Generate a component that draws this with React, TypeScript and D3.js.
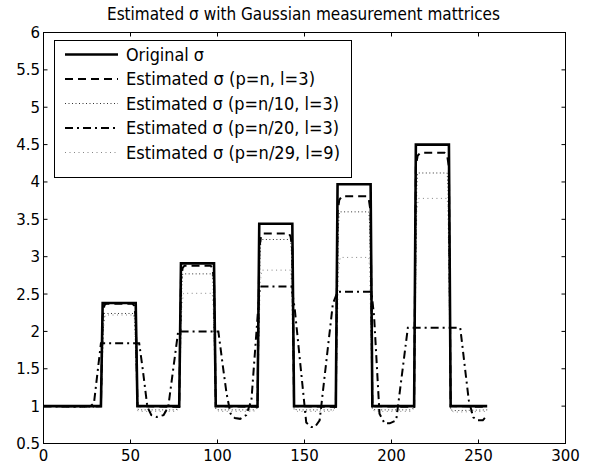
import React from "react";
import * as d3 from "d3";

const titleText = "Estimated σ with Gaussian measurement mattrices";
const xTicks = [0, 50, 100, 150, 200, 250, 300];
const yTicks = [0.5, 1, 1.5, 2, 2.5, 3, 3.5, 4, 4.5, 5, 5.5, 6];
const yTickLabels = ["0.5", "1", "1.5", "2", "2.5", "3", "3.5", "4", "4.5", "5", "5.5", "6"];

const originalSigma: [number, number][] = [
  [0, 1], [33, 1], [34, 2.38], [53, 2.38], [54, 1],
  [78, 1], [79, 2.91], [98, 2.91], [99, 1],
  [123, 1], [124, 3.44], [143, 3.44], [144, 1],
  [168, 1], [169, 3.97], [188, 3.97], [189, 1],
  [213, 1], [214, 4.5], [233, 4.5], [234, 1], [255, 1],
];

const estFull: [number, number][] = [
  [0, 1], [33, 1], [34, 2.2], [35, 2.35], [36, 2.37], [51, 2.37], [52, 2.35], [53, 2.2], [54, 1],
  [78, 0.99], [79, 2.7], [80, 2.85], [81, 2.88], [96, 2.88], [97, 2.85], [98, 2.7], [99, 1],
  [123, 0.99], [124, 3.1], [125, 3.27], [126, 3.31], [141, 3.31], [142, 3.27], [143, 3.1], [144, 1],
  [168, 0.99], [169, 3.6], [170, 3.76], [171.5, 3.81], [185.5, 3.81], [187, 3.76], [188, 3.6], [189, 1],
  [213, 0.99], [214, 4.2], [215, 4.35], [216.5, 4.39], [230.5, 4.39], [232, 4.35], [233, 4.2], [234, 1], [255, 0.99],
];

const estTenth: [number, number][] = [
  [0, 1], [33, 0.99], [34.5, 2.1], [35, 2.24], [52, 2.24], [52.5, 2.1], [54, 0.96],
  [56, 0.95], [76, 0.95], [78, 0.98], [79.5, 2.6], [80, 2.77], [97, 2.77], [97.5, 2.6], [99, 0.96],
  [101, 0.95], [121, 0.95], [123, 0.98], [124.5, 3.05], [125, 3.23], [142, 3.23], [142.5, 3.05], [144, 0.96],
  [146, 0.95], [166, 0.95], [168, 0.98], [169.5, 3.4], [170, 3.6], [187, 3.6], [187.5, 3.4], [189, 0.96],
  [191, 0.95], [211, 0.95], [213, 0.98], [214.5, 3.9], [215, 4.12], [232, 4.12], [232.5, 3.9], [234, 0.95],
  [236, 0.94], [255, 0.95],
];

const estTwentieth: [number, number][] = [
  [0, 1], [20, 0.99], [27, 1.0], [29, 1.04], [33, 1.84], [55, 1.84], [57, 1.5], [59.7, 0.99],
  [62, 0.88], [65, 0.855], [69, 0.88], [71.7, 0.99], [77.4, 2.0], [100.5, 2.0], [103, 1.55], [105.2, 1.17],
  [107.5, 0.9], [110, 0.84], [113, 0.83], [116.5, 0.88], [119.5, 1.08], [124.3, 2.6], [142.5, 2.6],
  [144.4, 2.3], [151, 0.78], [154, 0.72], [156, 0.72], [158.7, 0.81], [166.3, 2.37], [169, 2.53],
  [188.5, 2.53], [190, 2.2], [193.1, 0.9], [196, 0.77], [199, 0.77], [202.7, 0.81], [209.4, 2.05],
  [239.5, 2.05], [244.4, 1.08], [247, 0.85], [249.5, 0.81], [252.5, 0.81], [255, 0.88],
];

const estTwentyNinth: [number, number][] = [
  [0, 1], [33, 0.98], [34.5, 2.05], [35.5, 2.22], [52, 2.22], [52.5, 2.05], [54, 0.94],
  [56, 0.93], [76, 0.93], [78, 0.97], [79.5, 2.35], [80.5, 2.51], [97, 2.51], [97.5, 2.35], [99, 0.95],
  [101, 0.93], [121, 0.93], [123, 0.97], [124.5, 2.65], [125.5, 2.82], [142, 2.82], [142.5, 2.65], [144, 0.95],
  [146, 0.93], [166, 0.93], [168, 0.97], [169.5, 2.8], [170.5, 2.99], [187, 2.99], [187.5, 2.8], [189, 0.95],
  [191, 0.93], [211, 0.93], [213, 0.97], [214.5, 3.6], [215.5, 3.78], [232, 3.78], [232.5, 3.6], [234, 0.94],
  [236, 0.92], [255, 0.93],
];

const legendLabels = [
  "Original σ",
  "Estimated σ (p=n, l=3)",
  "Estimated σ (p=n/10, l=3)",
  "Estimated σ (p=n/20, l=3)",
  "Estimated σ (p=n/29, l=9)",
];
const legendLabelWidths = [78, 189, 213, 213, 214];

const W = 592;
const H = 470;
const left = 43.5;
const right = 565.5;
const top = 32.5;
const bottom = 443.5;
const FONT = "DejaVu Sans, sans-serif";

type Style = { stroke: string; width: number; dash: string | null };
const styles: Style[] = [
  { stroke: "#000", width: 2.6, dash: null },
  { stroke: "#000", width: 2, dash: "8,5" },
  { stroke: "#333", width: 1, dash: "1,2.5" },
  { stroke: "#000", width: 2, dash: "8,4,2,4" },
  { stroke: "#666", width: 0.8, dash: "1,3.5" },
];

export default function App() {
  const x = d3.scaleLinear().domain([0, 300]).range([left, right]);
  const y = d3.scaleLinear().domain([0.5, 6]).range([bottom, top]);
  const line = d3
    .line<[number, number]>()
    .x((d) => x(d[0]))
    .y((d) => y(d[1]));

  const series = [originalSigma, estFull, estTenth, estTwentieth, estTwentyNinth];
  const drawOrder = [4, 2, 3, 1, 0];

  const legX = 54.5;
  const legY = 40.5;
  const legW = 297;
  const legH = 137;
  const rowY0 = 54.5;
  const rowStep = 24.5;

  return (
    <svg width={W} height={H} style={{ position: "absolute", left: 0, top: 0, background: "#fff" }}>
      <rect x={0} y={0} width={W} height={H} fill="#fff" />
      <text
        x={303.5}
        y={19.5}
        textAnchor="middle"
        fontFamily={FONT}
        fontSize={17}
        fill="#000"
        textLength={393}
        lengthAdjust="spacingAndGlyphs"
      >
        {titleText}
      </text>
      <defs>
        <clipPath id="plotclip">
          <rect x={left} y={top} width={right - left} height={bottom - top} />
        </clipPath>
      </defs>
      <g clipPath="url(#plotclip)">
        {drawOrder.map((i) => (
          <path
            key={i}
            d={line(series[i]) || ""}
            fill="none"
            stroke={styles[i].stroke}
            strokeWidth={styles[i].width}
            strokeDasharray={styles[i].dash || undefined}
            strokeLinejoin="miter"
          />
        ))}
      </g>
      <rect x={left} y={top} width={right - left} height={bottom - top} fill="none" stroke="#000" strokeWidth={1} />
      {xTicks.map((t) => (
        <g key={"x" + t}>
          <line x1={x(t)} x2={x(t)} y1={bottom} y2={bottom - 4} stroke="#000" strokeWidth={1} />
          <line x1={x(t)} x2={x(t)} y1={top} y2={top + 4} stroke="#000" strokeWidth={1} />
          <text x={x(t)} y={461} textAnchor="middle" fontFamily={FONT} fontSize={15} fill="#000">
            {String(t)}
          </text>
        </g>
      ))}
      {yTicks.map((t, i) => (
        <g key={"y" + t}>
          <line x1={left} x2={left + 4} y1={y(t)} y2={y(t)} stroke="#000" strokeWidth={1} />
          <line x1={right} x2={right - 4} y1={y(t)} y2={y(t)} stroke="#000" strokeWidth={1} />
          <text x={40} y={y(t) + 5.5} textAnchor="end" fontFamily={FONT} fontSize={15} fill="#000">
            {yTickLabels[i]}
          </text>
        </g>
      ))}
      <rect x={legX} y={legY} width={legW} height={legH} fill="#fff" stroke="#000" strokeWidth={1} />
      {legendLabels.map((lab, i) => {
        const ry = rowY0 + i * rowStep;
        return (
          <g key={"l" + i}>
            <line
              x1={65}
              x2={118}
              y1={ry}
              y2={ry}
              stroke={styles[i].stroke}
              strokeWidth={styles[i].width}
              strokeDasharray={styles[i].dash || undefined}
            />
            <text
              x={126}
              y={ry + 6}
              fontFamily={FONT}
              fontSize={17}
              fill="#000"
              textLength={legendLabelWidths[i]}
              lengthAdjust="spacingAndGlyphs"
            >
              {lab}
            </text>
          </g>
        );
      })}
    </svg>
  );
}
